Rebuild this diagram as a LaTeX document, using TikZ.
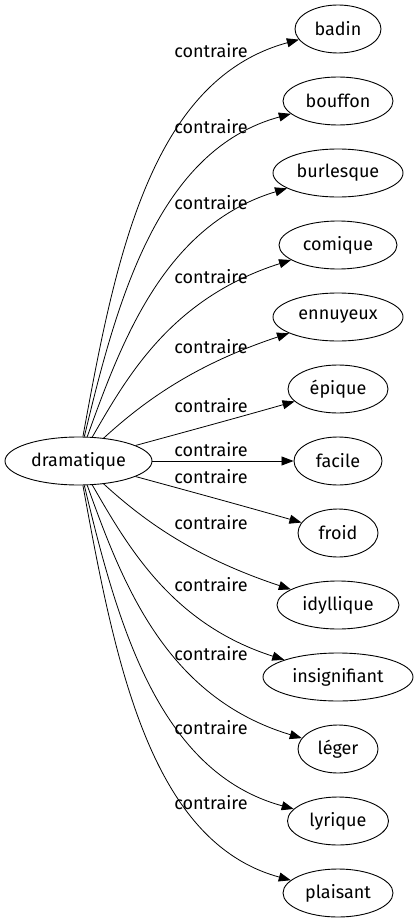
\documentclass[tikz,border=0pt]{standalone}
\usepackage{fontspec}
\setmainfont{Fira Sans}
\usetikzlibrary{arrows.meta,shapes.geometric}
\begin{document}
\begin{tikzpicture}[x=1pt,y=-1pt,
  every node/.style={font=\fontsize{18}{20}\selectfont},
  term/.style={ellipse,draw,line width=0.9pt,inner sep=0pt,minimum height=48pt},
  rel/.style={line width=0.8pt,-{Triangle[length=12pt,width=9pt]}},
  lab/.style={anchor=base,inner sep=0pt}]
\useasboundingbox (0,0) rectangle (417,923);
\node[term,minimum width=147pt] (dramatique) at (78.5,461) {dramatique};
\node[term,minimum width=86pt] (badin) at (338,29) {badin};
\node[term,minimum width=110pt] (bouffon) at (338,101) {bouffon};
\node[term,minimum width=130pt] (burlesque) at (338,173) {burlesque};
\node[term,minimum width=118pt] (comique) at (338,245) {comique};
\node[term,minimum width=130pt] (ennuyeux) at (338,317) {ennuyeux};
\node[term,minimum width=100pt] (epique) at (338,389) {épique};
\node[term,minimum width=88pt] (facile) at (338,461) {facile};
\node[term,minimum width=80pt] (froid) at (338,533) {froid};
\node[term,minimum width=122pt] (idyllique) at (338,605) {idyllique};
\node[term,minimum width=150pt] (insignifiant) at (338,677) {insignifiant};
\node[term,minimum width=80pt] (leger) at (338,749) {léger};
\node[term,minimum width=101pt] (lyrique) at (338,821) {lyrique};
\node[term,minimum width=110pt] (plaisant) at (338,893) {plaisant};
% upper edges
\draw[rel] (dramatique) .. controls (115,260) and (150,80) .. (badin);
\draw[rel] (dramatique) .. controls (117,300) and (158,150) .. (bouffon);
\draw[rel] (dramatique) .. controls (122,340) and (165,225) .. (burlesque);
\draw[rel] (dramatique) .. controls (128,375) and (172,298) .. (comique);
\draw[rel] (dramatique) .. controls (140,405) and (190,366) .. (ennuyeux);
\draw[rel] (dramatique) .. controls (185,432) and (240,417) .. (epique);
\draw[rel] (dramatique) -- (facile);
% lower edges (mirrored)
\draw[rel] (dramatique) .. controls (185,490) and (240,505) .. (froid);
\draw[rel] (dramatique) .. controls (140,517) and (190,556) .. (idyllique);
\draw[rel] (dramatique) .. controls (128,547) and (172,624) .. (insignifiant);
\draw[rel] (dramatique) .. controls (122,582) and (165,697) .. (leger);
\draw[rel] (dramatique) .. controls (117,622) and (158,772) .. (lyrique);
\draw[rel] (dramatique) .. controls (115,662) and (150,842) .. (plaisant);
% labels
\node[lab] (l1) at (211,58) {contraire};
\node[lab] (l2) at (211,134) {contraire};
\node[lab] (l3) at (211,209) {contraire};
\node[lab] (l4) at (211,283) {contraire};
\node[lab] (l5) at (211,353) {contraire};
\node[lab] (l6) at (211,412) {contraire};
\node[lab] (l7) at (211,456) {contraire};
\node[lab] (l8) at (211,483) {contraire};
\node[lab] (l9) at (211,529) {contraire};
\node[lab] (l10) at (211,591) {contraire};
\node[lab] (l11) at (211,660) {contraire};
\node[lab] (l12) at (211,734) {contraire};
\node[lab] (l13) at (211,809) {contraire};
\end{tikzpicture}
\end{document}
